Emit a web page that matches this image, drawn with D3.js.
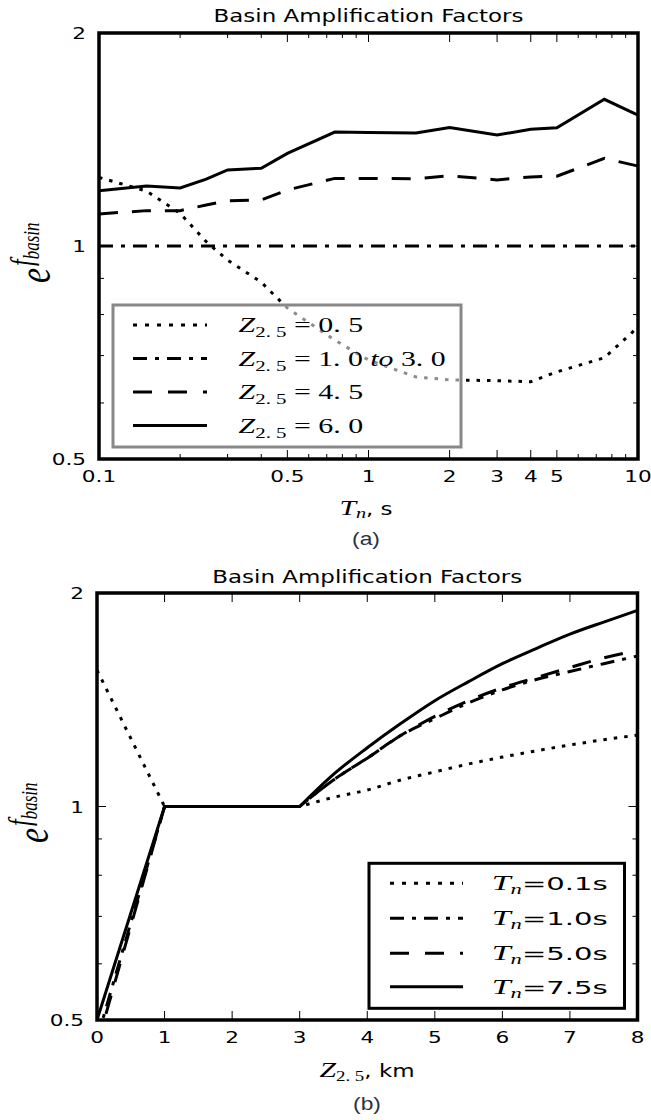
<!DOCTYPE html>
<html><head><meta charset="utf-8">
<script src="https://cdn.jsdelivr.net/npm/d3@7"></script>
<style>body{margin:0;background:#fff}svg{display:block}</style>
</head><body>
<svg id="c" width="651" height="1120"></svg>
<script>
// ---- data: panel (a) ----
const periods = [0.1,0.15,0.2,0.25,0.3,0.4,0.5,0.75,1,1.5,2,3,4,5,7.5,10];
const zA05   = [1.250,1.196,1.112,1.014,0.955,0.889,0.817,0.736,0.690,0.653,0.647,0.645,0.643,0.664,0.695,0.768];
const zA1to3 = [1,1,1,1,1,1,1,1,1,1,1,1,1,1,1,1];
const zA45   = [1.110,1.122,1.122,1.143,1.158,1.162,1.200,1.246,1.246,1.245,1.257,1.240,1.252,1.255,1.330,1.297];
const zA60   = [1.197,1.216,1.208,1.243,1.281,1.288,1.352,1.449,1.447,1.445,1.471,1.435,1.462,1.469,1.612,1.531];
const xTicksA = [0.1,0.5,1,2,3,4,5,10];
const xTickLabelsA = ["0.1","0.5","1","2","3","4","5","10"];
const xMinorA = [0.2,0.3,0.4,0.6,0.7,0.8,0.9,6,7,8,9];
// ---- data: panel (b) ----
const depths = [0,1,3,3.5,4,4.5,5,5.5,6,6.5,7,7.5,8];
const tB01 = [1.557,1.0,1.0,1.03,1.055,1.09,1.119,1.148,1.174,1.198,1.221,1.242,1.261];
const tB10 = [0.47,1.0,1.0,1.09,1.17,1.26,1.33,1.40,1.46,1.51,1.55,1.59,1.63];
const tB50 = [0.46,1.0,1.0,1.09,1.17,1.26,1.34,1.41,1.47,1.52,1.57,1.62,1.66];
const tB75 = [0.5,1.0,1.0,1.11,1.21,1.31,1.41,1.50,1.59,1.67,1.75,1.82,1.89];
const xTicksB = [0,1,2,3,4,5,6,7,8];
// ---- shared y ----
const yTicks = [0.5,1,2];
const yTickLabels = ["0.5","1","2"];
const yMinor = [0.6,0.7,0.8,0.9];
const title = "Basin Amplification Factors";
const legendA = ["0. 5","1. 0 to 3. 0","4. 5","6. 0"];
const legendB = ["0.1","1.0","5.0","7.5"];

const SX = 1.35;
const svg = d3.select("#c");
const SANS = "'DejaVu Sans', sans-serif";
const SERIF = "'Liberation Serif', serif";
const CAPTION = "'Liberation Sans', Arial, sans-serif";
const dashes = ["3.5,7","14,8,4,8","19,14",null];

function stext(x, y, size, anchor, str, fam, sx) {
  return svg.append("text")
    .attr("transform", `translate(${x},${y}) scale(${sx||SX},1)`)
    .attr("text-anchor", anchor).style("font-family", fam||SANS)
    .attr("font-size", size).attr("fill", "#000").text(str);
}

function frame(L, R, T, B, x, y, xMajor, xMinor, id) {
  const g = svg.append("g");
  const tk = (x1,y1,x2,y2)=>g.append("line").attr("x1",x1).attr("y1",y1).attr("x2",x2).attr("y2",y2)
      .attr("stroke","#000").attr("stroke-width",1);
  xMajor.forEach(v=>{const p=x(v); tk(p,B,p,B-9); tk(p,T,p,T+9);});
  xMinor.forEach(v=>{const p=x(v); tk(p,B,p,B-5); tk(p,T,p,T+5);});
  yTicks.forEach(v=>{const p=y(v); tk(L,p,L+9,p); tk(R,p,R-9,p);});
  yMinor.forEach(v=>{const p=y(v); tk(L,p,L+5,p); tk(R,p,R-5,p);});
  svg.append("clipPath").attr("id",id).append("rect").attr("x",L).attr("y",T).attr("width",R-L).attr("height",B-T);
}
function border(L,R,T,B){
  svg.append("rect").attr("x",L).attr("y",T).attr("width",R-L).attr("height",B-T)
    .attr("fill","none").attr("stroke","#000").attr("stroke-width",3.5);
}
function ylabel(x, yb) {
  const t = svg.append("text")
    .attr("transform", `translate(${x},${yb}) scale(${SX},1) rotate(-90)`)
    .style("font-family", SERIF).attr("font-style","italic").attr("fill","#000");
  t.append("tspan").attr("font-size",34).text("e");
  t.append("tspan").attr("font-size",24).attr("dy",-13).attr("dx",2).text("f");
  t.append("tspan").attr("font-size",17).attr("dy",5).text("basin");
}

// ================= Panel (a) =================
{
  const L=99,R=638,T=33,B=459;
  const x = d3.scaleLog().domain([0.1,10]).range([L,R]);
  const y = d3.scaleLog().domain([0.5,2]).range([B,T]);
  frame(L,R,T,B,x,y,xTicksA,xMinorA,"clipA");
  const series = [zA05,zA1to3,zA45,zA60];
  const line = d3.line().x((d,i)=>x(periods[i])).y(d=>y(d));
  const gl = svg.append("g").attr("clip-path","url(#clipA)");
  series.forEach((s,k)=>{
    gl.append("path").attr("d",line(s)).attr("fill","none").attr("stroke","#000")
      .attr("stroke-width",3).attr("stroke-dasharray",dashes[k]);
  });
  // legend
  svg.append("rect").attr("x",113).attr("y",305).attr("width",348).attr("height",142)
    .attr("fill","#fff").attr("fill-opacity",0.55).attr("stroke","#888").attr("stroke-width",3);
  const rows=[325,358.5,392,425.5];
  const lstyles=["4,8","14,8,4,8","19,16",null];
  legendA.forEach((lab,k)=>{
    svg.append("line").attr("x1",133).attr("x2",207).attr("y1",rows[k]).attr("y2",rows[k])
      .attr("stroke","#000").attr("stroke-width",3).attr("stroke-dasharray",lstyles[k]);
    const t = svg.append("text").attr("x",238.6).attr("y",rows[k]+7)
      .style("font-family",SERIF).attr("font-size",20).attr("fill","#000")
      .attr("textLength", k===1?207:124.5).attr("lengthAdjust","spacingAndGlyphs");
    t.append("tspan").attr("font-style","italic").text("Z");
    t.append("tspan").attr("font-size",14).attr("dy",5).text("2. 5");
    if (k===1) {
      t.append("tspan").attr("dy",-5).text(" = 1. 0 ");
      t.append("tspan").attr("font-style","italic").text("to");
      t.append("tspan").text(" 3. 0");
    } else {
      t.append("tspan").attr("dy",-5).text(" = "+lab);
    }
  });
  border(L,R,T,B);
  stext((L+R)/2, 22, 17, "middle", title);
  yTicks.forEach((v,i)=>stext(86, y(v)+6, 16, "end", yTickLabels[i]));
  xTicksA.forEach((v,i)=>stext(x(v), 482, 16, "middle", xTickLabelsA[i]));
  const xl = svg.append("text").attr("transform",`translate(366,515) scale(${SX},1)`)
    .attr("text-anchor","middle").attr("fill","#000");
  xl.append("tspan").style("font-family",SERIF).attr("font-style","italic").attr("font-size",22).text("T");
  xl.append("tspan").style("font-family",SERIF).attr("font-style","italic").attr("font-size",15).attr("dy",3).text("n");
  xl.append("tspan").style("font-family",SANS).attr("font-size",17).attr("dy",-3).text(", s");
  stext(366, 545, 19, "middle", "(a)", CAPTION, 1.2).attr("fill","#2b3440");
  ylabel(50, 283);
}

// ================= Panel (b) =================
{
  const L=97,R=637.5,T=593,B=1020;
  const x = d3.scaleLinear().domain([0,8]).range([L,R]);
  const y = d3.scaleLog().domain([0.5,2]).range([B,T]);
  frame(L,R,T,B,x,y,xTicksB,[],"clipB");
  const series = [tB01,tB10,tB50,tB75];
  const pts = s => s.map((v,i)=>[x(depths[i]), y(v)]);
  const lin = d3.line();
  const smooth = d3.line().curve(d3.curveMonotoneX);
  const gl = svg.append("g").attr("clip-path","url(#clipB)");
  series.forEach((s,k)=>{
    const p = pts(s);
    const d = lin(p.slice(0,3)) + smooth(p.slice(2)).replace(/^M[^CL]*/, "");
    gl.append("path").attr("d",d).attr("fill","none").attr("stroke","#000")
      .attr("stroke-width",3).attr("stroke-dasharray",dashes[k]);
  });
  svg.append("rect").attr("x",369).attr("y",863.3).attr("width",255.5).attr("height",145)
    .attr("fill","#fff").attr("stroke","#000").attr("stroke-width",3);
  const rows=[883.3,918.3,953.3,986.7];
  const lstyles=["4,8","14,8,4,8","19,16",null];
  legendB.forEach((lab,k)=>{
    svg.append("line").attr("x1",390).attr("x2",463).attr("y1",rows[k]).attr("y2",rows[k])
      .attr("stroke","#000").attr("stroke-width",3).attr("stroke-dasharray",lstyles[k]);
    const t = svg.append("text").attr("x",491.7).attr("y",rows[k]+7).attr("fill","#000")
      .attr("textLength",116).attr("lengthAdjust","spacingAndGlyphs");
    t.append("tspan").style("font-family",SERIF).attr("font-style","italic").attr("font-size",21).text("T");
    t.append("tspan").style("font-family",SERIF).attr("font-style","italic").attr("font-size",14).attr("dy",4).text("n");
    t.append("tspan").style("font-family",SANS).attr("font-size",18).attr("dy",-4).text("="+lab+"s");
  });
  border(L,R,T,B);
  stext((L+R)/2, 583, 17, "middle", title);
  yTicks.forEach((v,i)=>stext(84, y(v)+6, 16, "end", yTickLabels[i]));
  xTicksB.forEach(v=>stext(x(v), 1043, 16, "middle", String(v)));
  const xl = svg.append("text").attr("transform",`translate(367,1077) scale(${SX},1)`)
    .attr("text-anchor","middle").attr("fill","#000");
  xl.append("tspan").style("font-family",SERIF).attr("font-style","italic").attr("font-size",22).text("Z");
  xl.append("tspan").style("font-family",SERIF).attr("font-size",14).attr("dy",4).text("2. 5");
  xl.append("tspan").style("font-family",SANS).attr("font-size",17).attr("dy",-4).text(", km");
  stext(367, 1110, 19, "middle", "(b)", CAPTION, 1.2).attr("fill","#2b3440");
  ylabel(48, 843);
}
</script>
</body></html>
